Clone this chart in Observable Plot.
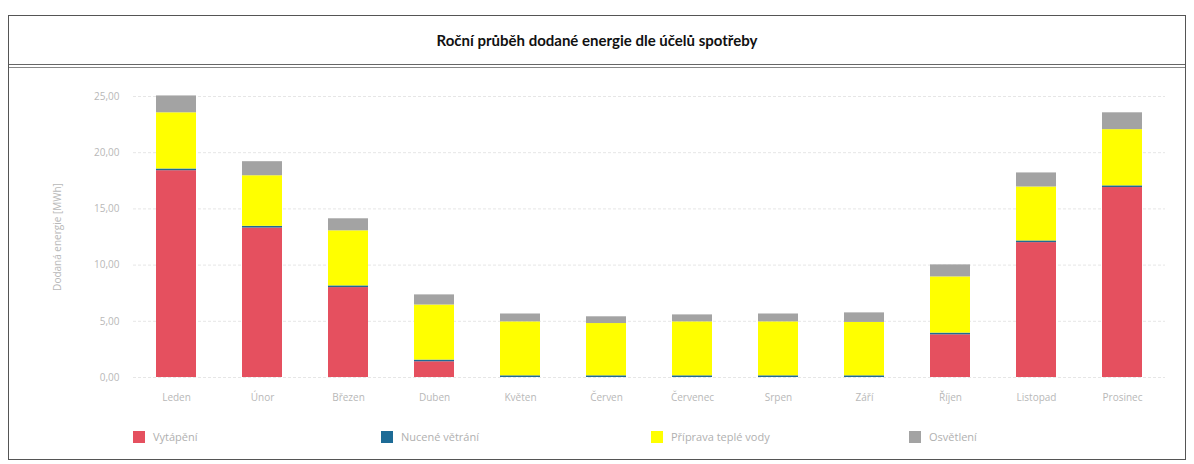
<!DOCTYPE html>
<html>
<head>
<meta charset="utf-8">
<script src="https://cdn.jsdelivr.net/npm/d3@7"></script>
<script src="https://cdn.jsdelivr.net/npm/@observablehq/plot@0.6"></script>
<style>
  html, body { margin: 0; padding: 0; background: #fff; width: 1194px; height: 464px; overflow: hidden; font-family: "Open Sans", sans-serif; }
  #frame { position: absolute; left: 8px; top: 15px; width: 1176px; height: 443px; border: 1px solid #555; }
  #title { position: absolute; left: 0; top: 0; width: 100%; height: 48px; line-height: 48px; text-align: center; font-family: Lato, "Open Sans", sans-serif; font-weight: bold; font-size: 15px; color: #111; border-bottom: 1px solid #666; }
  #inner { position: absolute; left: 0; top: 51px; width: 100%; height: 392px; border-top: 1px solid #888; }
  #chart { position: absolute; left: 0; top: 0; }
  #legend { position: absolute; top: 361px; left: 0; width: 100%; height: 20px; font-size: 11px; color: #b0b0b0; }
  .item { position: absolute; display: flex; align-items: center; gap: 8px; }
  .sw { width: 12px; height: 12px; display: inline-block; }
</style>
</head>
<body>
<div id="frame">
  <div id="title">Roční průběh dodané energie dle účelů spotřeby</div>
  <div id="inner">
    <div id="chart"></div>
    <div id="legend"></div>
  </div>
</div>
<script>
const months = ["Leden", "Únor", "Březen", "Duben", "Květen", "Červen", "Červenec", "Srpen", "Září", "Říjen", "Listopad", "Prosinec"];
const seriesNames = ["Vytápění", "Nucené větrání", "Příprava teplé vody", "Osvětlení"];
const seriesColors = ["#e5505f", "#1d6b96", "#ffff00", "#a3a3a3"];
const heating  = [18.4, 13.3, 8.0, 1.4, 0.0, 0.0, 0.0, 0.0, 0.0, 3.8, 12.0, 16.9];
const ventilation = [0.15, 0.15, 0.15, 0.15, 0.15, 0.15, 0.15, 0.15, 0.15, 0.15, 0.15, 0.15];
const hotWater = [5.0, 4.5, 4.9, 4.9, 4.8, 4.65, 4.8, 4.8, 4.75, 5.0, 4.8, 5.0];
const lighting = [1.5, 1.25, 1.07, 0.9, 0.7, 0.6, 0.62, 0.7, 0.85, 1.07, 1.25, 1.5];
const yTicks = [0, 5, 10, 15, 20, 25];
const yTickLabels = ["0,00", "5,00", "10,00", "15,00", "20,00", "25,00"];
const yLabel = "Dodaná energie [MWh]";

const seriesValues = [heating, ventilation, hotWater, lighting];
const rows = [];
months.forEach((m, i) => {
  seriesNames.forEach((s, j) => rows.push({month: m, series: s, value: seriesValues[j][i]}));
});

const fmt = (d) => yTickLabels[yTicks.indexOf(d)];
const chart = Plot.plot({
  width: 1176,
  height: 345,
  marginTop: 28,
  marginBottom: 36,
  marginLeft: 124,
  marginRight: 20,
  style: {fontFamily: "Open Sans, sans-serif", fontSize: "10px", color: "#b5b5b5", background: "transparent"},
  x: {domain: months, paddingInner: 0.53, paddingOuter: 0.265, label: null},
  y: {domain: [0, 25], label: null},
  color: {domain: seriesNames, range: seriesColors},
  marks: [
    Plot.gridY(yTicks, {stroke: "#e6e6e6", strokeOpacity: 1, strokeDasharray: "3,2"}),
    Plot.barY(rows, {x: "month", y: "value", fill: "series", order: seriesNames}),
    Plot.axisY({ticks: yTicks, tickFormat: fmt, tickSize: 0, tickPadding: 14, label: yLabel, labelAnchor: "center", labelArrow: "none", labelOffset: 80, fill: "#b8b8b8", fontSize: 10}),
    Plot.axisX({tickSize: 0, tickPadding: 16, label: null, fill: "#b8b8b8", fontSize: 10})
  ]
});
document.getElementById("chart").appendChild(chart);

const legendX = [124, 372, 642, 900];
const legend = document.getElementById("legend");
seriesNames.forEach((s, j) => {
  const d = document.createElement("div");
  d.className = "item";
  d.style.left = legendX[j] + "px";
  const sw = document.createElement("span");
  sw.className = "sw";
  sw.style.background = seriesColors[j];
  const t = document.createElement("span");
  t.textContent = s;
  d.appendChild(sw); d.appendChild(t);
  legend.appendChild(d);
});
</script>
</body>
</html>
